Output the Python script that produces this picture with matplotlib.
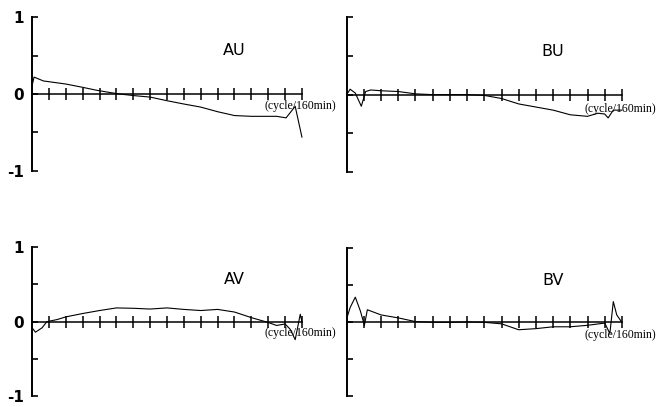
import matplotlib.pyplot as plt

# frequency axis (cycle/160min) and the four curves
au_x = [0, 0.12, 0.67, 2, 3, 3.8, 4.6, 5.2, 6, 7, 8, 9, 10, 11, 12, 13, 14.5, 15.06, 15.6, 16]
au_y = [0.11, 0.22, 0.17, 0.13, 0.087, 0.05, 0.02, 0, -0.02, -0.04, -0.087, -0.13,
        -0.17, -0.23, -0.28, -0.29, -0.29, -0.31, -0.16, -0.56]

bu_x = [0, 0.2, 0.5, 0.85, 1.1, 1.4, 2, 3, 4, 5, 6, 7, 8, 9, 10, 11, 12, 13, 14,
        14.6, 15, 15.2, 15.5, 16]
bu_y = [0, 0.07, 0.02, -0.15, 0.04, 0.06, 0.05, 0.04, 0.01, 0, 0, 0, -0.01, -0.05,
        -0.12, -0.16, -0.2, -0.26, -0.28, -0.24, -0.25, -0.3, -0.2, -0.2]

av_x = [0, 0.2, 0.6, 0.87, 1.5, 2, 3, 4, 5, 6, 7, 8, 9, 10, 11, 12, 13, 14, 14.5,
        15, 15.3, 15.6, 15.9, 16]
av_y = [-0.08, -0.14, -0.08, 0.0, 0.03, 0.065, 0.11, 0.15, 0.185, 0.18, 0.17, 0.185,
        0.165, 0.15, 0.165, 0.13, 0.055, -0.01, -0.05, -0.03, -0.1, -0.24, 0.1, 0.0]

bv_x = [0, 0.2, 0.5, 0.8, 1.03, 1.2, 2, 3, 4, 5, 6, 7, 8, 9, 10, 11, 12, 13, 14,
        15, 15.3, 15.5, 15.7, 16]
bv_y = [0.05, 0.2, 0.34, 0.15, -0.04, 0.17, 0.1, 0.06, 0.01, 0, 0, 0.005, 0, -0.02,
        -0.1, -0.085, -0.06, -0.06, -0.04, -0.01, -0.15, 0.28, 0.1, 0]

panels = [
    ("AU", au_x, au_y, -0.15),
    ("BU", bu_x, bu_y, -0.19),
    ("AV", av_x, av_y, -0.15),
    ("BV", bv_x, bv_y, -0.17),
]
freq_ticks = list(range(1, 17))
unit_label = "(cycle/160min)"

fig = plt.figure(figsize=(6.68, 4.07), dpi=100)
boxes = [
    [0.048, 0.580, 0.404, 0.378],
    [0.519, 0.577, 0.412, 0.381],
    [0.048, 0.026, 0.404, 0.367],
    [0.519, 0.026, 0.412, 0.364],
]

for i, (name, xs, ys, label_y) in enumerate(panels):
    ax = fig.add_axes(boxes[i])
    ax.set_xlim(0, 16)
    ax.set_ylim(-1, 1)
    ax.patch.set_visible(False)
    for side in ["top", "right"]:
        ax.spines[side].set_visible(False)
    ax.spines["left"].set_linewidth(1.4)
    ax.spines["bottom"].set_position(("data", 0))
    ax.spines["bottom"].set_linewidth(1.1)

    ax.set_xticks(freq_ticks)
    ax.set_xticklabels([])
    ax.tick_params(axis="x", direction="inout", length=9, width=1.1)

    ax.set_yticks([-1, -0.5, 0, 0.5, 1])
    if i % 2 == 0:
        ax.set_yticklabels(["-1", "", "0", "", "1"], fontsize=11, fontweight="bold")
    else:
        ax.set_yticklabels([])
    ax.tick_params(axis="y", direction="in", length=4, width=1.2, pad=6)

    ax.plot(xs, ys, color="black", linewidth=0.8, clip_on=False)
    ax.text(12.0, 0.56, name, fontsize=11.5, ha="center", va="center")
    ax.text(13.8, label_y, unit_label, fontsize=8.5, family="Liberation Serif",
            ha="left", va="center", clip_on=False)

plt.savefig("out.png", dpi=100)
